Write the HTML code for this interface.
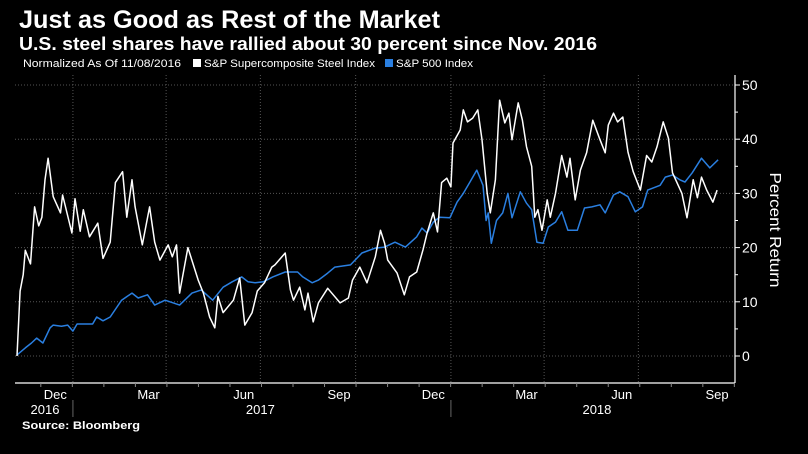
<!DOCTYPE html>
<html><head><meta charset="utf-8"><style>
html,body{margin:0;padding:0;background:#000;}
svg{display:block;}
text{font-family:"Liberation Sans",sans-serif;fill:#fff;}
</style></head><body>
<svg id="chart" width="808" height="454" viewBox="0 0 808 454">
<rect width="808" height="454" fill="#000"/>
<text x="19" y="28" font-size="25" font-weight="bold" textLength="421" lengthAdjust="spacingAndGlyphs">Just as Good as Rest of the Market</text>
<text x="19" y="50" font-size="18" font-weight="bold" textLength="578" lengthAdjust="spacingAndGlyphs">U.S. steel shares have rallied about 30 percent since Nov. 2016</text>
<g>
<text x="23" y="67" font-size="11" textLength="158" lengthAdjust="spacingAndGlyphs">Normalized As Of 11/08/2016</text>
<rect x="193" y="59" width="8" height="8" fill="#fff"/>
<text x="204" y="67" font-size="11" textLength="171" lengthAdjust="spacingAndGlyphs">S&amp;P Supercomposite Steel Index</text>
<rect x="385" y="59" width="8" height="8" fill="#2a7fe0"/>
<text x="396" y="67" font-size="11" textLength="77" lengthAdjust="spacingAndGlyphs">S&amp;P 500 Index</text>
</g>
<g id="grid"></g>
<g id="axes"></g>
<g id="series"></g>
<text transform="translate(770,230) rotate(90)" text-anchor="middle" font-size="16" textLength="115" lengthAdjust="spacingAndGlyphs">Percent Return</text>
<text x="22" y="429" font-size="11" font-weight="bold" textLength="118" lengthAdjust="spacingAndGlyphs">Source: Bloomberg</text>
</svg>
<script>
// days since 11/08/2016
const steelDays = [0,3,6,8,13,17,21,24,27,30,35,42,44,53,56,61,64,70,78,83,90,95,102,106,111,114,121,128,133,138,146,150,154,157,165,175,180,186,191,194,199,209,215,220,227,232,239,246,249,259,264,267,273,278,281,286,291,300,312,320,324,331,338,346,351,355,358,367,374,379,386,392,396,402,406,410,415,419,421,428,431,435,440,445,449,454,457,462,466,471,475,478,484,488,492,497,500,503,507,512,515,520,526,531,534,539,544,550,556,563,568,571,576,580,585,590,595,602,608,613,618,624,629,633,642,647,653,657,661,666,672,676];
const steelValues = [0,12,15,19.5,17,27.5,24,25.6,32.5,36.5,29.4,26.4,29.7,22.7,29,23,27,22,24.5,18,21,32,34,25.6,32.5,27.5,20.5,27.5,21,17.7,20.5,18.3,20.5,11.6,20,14,11.6,7.2,5.2,11,8,10.3,14.4,5.7,8,12,13.5,16.4,16.8,19,12.2,10.3,12.7,8.5,11.6,6.3,9.8,12.5,9.8,10.7,14,16.4,13.5,18.3,23.2,20.8,17.7,15.3,11.3,14.6,15.5,19.6,22.7,26.4,22.9,32,32.8,31.2,39.3,41.7,45.4,43.2,43.9,45.4,39.9,30,26.4,32.5,47.2,43,44.8,39.9,46.7,43.5,38.6,35,25.6,27,23.2,28.8,25.6,30,37,33,36.5,28.8,34.3,37.5,43.5,39.9,37.5,42.6,44.8,43.2,44.1,37.6,34,30.6,37,35.8,38.6,43.2,40.2,33.8,30,25.5,32.5,29.2,33,30.6,28.4,30.6];
const spDays = [0,8,14,19,25,32,35,43,49,54,58,73,77,83,90,101,111,117,126,133,143,157,169,178,189,199,208,217,223,230,238,247,259,271,276,285,291,300,307,322,333,346,355,365,375,386,391,396,402,408,418,425,431,437,444,450,453,455,458,463,469,474,478,486,492,497,502,508,513,520,526,532,541,548,555,563,568,576,582,590,597,604,609,621,626,633,640,645,652,661,669,677];
const spValues = [0.2,1.5,2.4,3.3,2.4,5.2,5.7,5.5,5.7,4.6,5.9,5.9,7.2,6.5,7.2,10.3,11.6,10.7,11.3,9.4,10.3,9.4,11.6,12.2,10.3,12.7,13.7,14.6,13.7,13.5,13.7,14.6,15.5,15.5,14.6,13.5,14,15.3,16.4,16.8,19,19.9,20.1,21,20.1,22,23.6,22.7,24.7,25.6,25.5,28.4,30,32,34.3,31.5,25,26.4,20.8,25,26.4,30,25.5,30.3,28.2,27,21,20.8,23.8,24.7,26.6,23.2,23.2,27.3,27.5,27.9,26.4,29.7,30.3,29.4,26.6,27.5,30.6,31.5,33,33.4,32.5,32.1,33.8,36.5,34.7,36.2];
const yTicks = [0,10,20,30,40,50];
const monthLabels = ["Dec","Mar","Jun","Sep","Dec","Mar","Jun","Sep"];
const monthLabelDays = [37,127,219,311,402,492,584,676];
const gridDays = [54,144,235,327,419,509,600];
const yearLabels = ["2016","2017","2018"];
const yearLabelDays = [27,235,560];
const yearSepDays = [54,419];

const NS = "http://www.w3.org/2000/svg";
const X0 = 17, PXD = 1.0356, Y0 = 356, PXV = 5.42;
const xS = d => X0 + d * PXD;
const yS = v => Y0 - v * PXV;
function mk(tag, attrs, parent){const e=document.createElementNS(NS,tag);for(const k in attrs)e.setAttribute(k,attrs[k]);parent.appendChild(e);return e;}
const grid=document.getElementById('grid'), axes=document.getElementById('axes'), series=document.getElementById('series');

yTicks.forEach(v=>{
  const l=mk('line',{x1:15,x2:735,y1:yS(v),y2:yS(v),stroke:'#555','stroke-dasharray':'1,2','stroke-width':1},grid);
  
  
  const t=mk('line',{x1:735,x2:740,y1:yS(v),y2:yS(v),stroke:'#fff','stroke-width':1},axes);
  
  
  const tx=mk('text',{x:742,y:yS(v)+5,'font-size':14},axes);
  tx.textContent=v;
  
  
});
for(let v=5; v<=45; v+=10){
  const t=mk('line',{x1:735,x2:738,y1:yS(v),y2:yS(v),stroke:'#fff','stroke-width':1},axes);
  
  
}
gridDays.forEach(d=>{
  const l=mk('line',{x1:xS(d),x2:xS(d),y1:75,y2:383,stroke:'#555','stroke-dasharray':'1,2','stroke-width':1},grid);
  
  
});
const ax=mk('line',{x1:15,x2:735,y1:383,y2:383,stroke:'#fff','stroke-width':1.2},axes);


const ay=mk('line',{x1:735,x2:735,y1:75,y2:383,stroke:'#fff','stroke-width':1.2},axes);


// monthly ticks
for(let d=23; d<=700; d+=30.44){
  const t=mk('line',{x1:xS(d),x2:xS(d),y1:383,y2:387,stroke:'#888','stroke-width':1},axes);
  
  
}
monthLabels.forEach((m,i)=>{
  const t=mk('text',{x:xS(monthLabelDays[i]),y:399,'font-size':13,'text-anchor':'middle'},axes);
  t.textContent=m;
  
  
});
yearLabels.forEach((y,i)=>{
  const t=mk('text',{x:xS(yearLabelDays[i]),y:414,'font-size':13,'text-anchor':'middle'},axes);
  t.textContent=y;
  
  
});
yearSepDays.forEach(d=>{
  const l=mk('line',{x1:xS(d),x2:xS(d),y1:400,y2:417,stroke:'#666','stroke-width':1},axes);
  
  
});
function path(days, vals){return days.map((d,i)=>(i?'L':'M')+xS(d).toFixed(1)+','+yS(vals[i]).toFixed(1)).join(' ');}
const sp=mk('path',{d:path(spDays,spValues),fill:'none',stroke:'#2a7fe0','stroke-width':1.5,'stroke-linejoin':'round'},series);


const st=mk('path',{d:path(steelDays,steelValues),fill:'none',stroke:'#fff','stroke-width':1.5,'stroke-linejoin':'round'},series);


</script>
</body></html>
